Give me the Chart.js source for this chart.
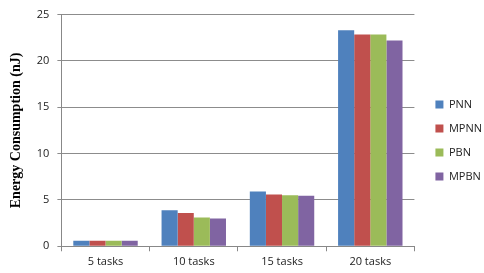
<!DOCTYPE html>
<html>
<head>
<title>Energy Consumption</title>
<script src="https://cdn.jsdelivr.net/npm/chart.js"></script>
<style>
  html, body { margin: 0; padding: 0; background: #fff; }
  #chart-container { width: 484px; height: 273px; }
</style>
</head>
<body>
<div id="chart-container">
  <canvas id="energyChart"></canvas>
</div>
<script>
const categories = ['5 tasks', '10 tasks', '15 tasks', '20 tasks'];
const pnn = [0.6, 3.9, 5.9, 23.3];
const mpnn = [0.6, 3.6, 5.6, 22.85];
const pbn = [0.6, 3.1, 5.5, 22.85];
const mpbn = [0.6, 3.0, 5.45, 22.2];
const yTicks = [0, 5, 10, 15, 20, 25];

// push the legend a few pixels further right, away from the plot
const legendShift = {
  id: 'legendShift',
  afterLayout(chart) {
    chart.legend.left += 8;
    chart.legend.right += 8;
  }
};

const ctx = document.getElementById('energyChart').getContext('2d');
new Chart(ctx, {
  type: 'bar',
  data: {
    labels: categories,
    datasets: [
      { label: 'PNN', data: pnn, backgroundColor: '#4F81BD' },
      { label: 'MPNN', data: mpnn, backgroundColor: '#C0504D' },
      { label: 'PBN', data: pbn, backgroundColor: '#9BBB59' },
      { label: 'MPBN', data: mpbn, backgroundColor: '#8064A2' }
    ]
  },
  options: {
    responsive: true,
    maintainAspectRatio: false,
    animation: false,
    layout: { padding: { top: 8, right: 0, left: 8, bottom: 0 } },
    datasets: {
      bar: { barPercentage: 1, categoryPercentage: 0.73 }
    },
    scales: {
      x: {
        grid: { offset: true, drawOnChartArea: false, color: '#888', tickLength: 5 },
        border: { color: '#888' },
        ticks: { color: '#222', font: { family: 'Open Sans', size: 11, lineHeight: 0.52 }, padding: 8 }
      },
      y: {
        min: 0,
        max: 25,
        afterBuildTicks: axis => { axis.ticks = yTicks.map(v => ({ value: v })); },
        grid: { color: '#8c8c8c', tickLength: 4 },
        border: { color: '#888' },
        ticks: { color: '#222', font: { family: 'Open Sans', size: 11 }, padding: 8 },
        title: {
          display: true,
          text: 'Energy Consumption (nJ)',
          color: '#000',
          font: { family: 'Liberation Serif', size: 14, weight: 'bold' },
          padding: { top: 0, bottom: 4 }
        }
      }
    },
    plugins: {
      legend: {
        position: 'right',
        labels: {
          boxWidth: 8,
          boxHeight: 8,
          padding: 13,
          color: '#222',
          font: { family: 'Open Sans', size: 11 }
        }
      },
      tooltip: { enabled: false }
    }
  },
  plugins: [legendShift]
});
</script>
</body>
</html>
